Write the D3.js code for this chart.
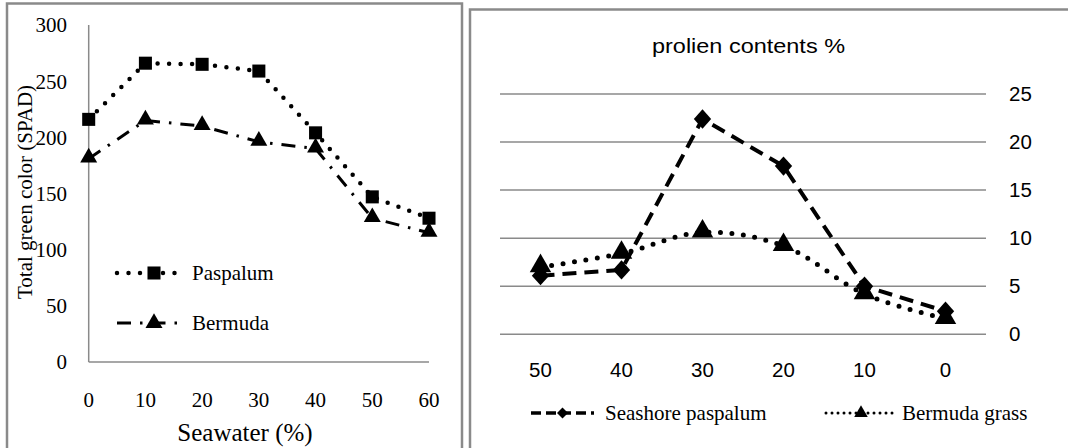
<!DOCTYPE html>
<html>
<head>
<meta charset="utf-8">
<script src="https://cdn.jsdelivr.net/npm/d3@7"></script>
<style>
  body { margin: 0; background: #fff; }
  svg { display: block; }
</style>
</head>
<body>
<div id="chart"></div>
<script>
// left chart data (SPAD)
const seawater = [0, 10, 20, 30, 40, 50, 60];
const paspalumSpad = [216, 266, 265, 259, 204, 147, 128];
const bermudaSpad = [181, 215, 210, 196, 190, 128, 115];
const spadTicks = [0, 50, 100, 150, 200, 250, 300];

// right chart data (prolien)
const prolienCats = ['50', '40', '30', '20', '10', '0'];
const seashoreProlien = [6.1, 6.7, 22.4, 17.5, 5.0, 2.4];
const bermudaProlien = [7.0, 8.4, 10.6, 9.2, 4.2, 1.6];
const prolienTicks = [0, 5, 10, 15, 20, 25];

const W = 1068, H = 448;
const svg = d3.select('#chart').append('svg').attr('width', W).attr('height', H);

const serif = '"Liberation Serif", "Times New Roman", serif';
const sans = '"Liberation Sans", Arial, sans-serif';
const gray = '#8a8a8a';

// panel borders
svg.append('path').attr('d', 'M7,448 V3.5 H462 V448')
  .attr('fill', 'none').attr('stroke', gray).attr('stroke-width', 2.5);
svg.append('path').attr('d', 'M470,448 V9.5 H1068')
  .attr('fill', 'none').attr('stroke', gray).attr('stroke-width', 2.5);

//---------- left chart ----------
const x1 = d3.scaleLinear().domain([0, 60]).range([88.7, 429]);
const y1 = d3.scaleLinear().domain([0, 300]).range([362, 25]);
const g1 = svg.append('g');

// axes lines
g1.append('line').attr('x1', x1(0)).attr('x2', x1(60)).attr('y1', y1(0)).attr('y2', y1(0))
  .attr('stroke', gray).attr('stroke-width', 1.5);
g1.append('line').attr('x1', x1(0)).attr('x2', x1(0)).attr('y1', y1(0)).attr('y2', y1(300))
  .attr('stroke', gray).attr('stroke-width', 1.5);

g1.selectAll('.ytick').data(spadTicks).enter().append('text')
  .attr('x', 67).attr('y', d => y1(d)).attr('dy', '0.35em')
  .attr('text-anchor', 'end').attr('font-family', serif).attr('font-size', 21)
  .text(d => d);

g1.selectAll('.xtick').data(seawater).enter().append('text')
  .attr('x', d => x1(d)).attr('y', 400).attr('dy', '0.35em')
  .attr('text-anchor', 'middle').attr('font-family', serif).attr('font-size', 21)
  .text(d => d);

g1.append('text').attr('x', 245).attr('y', 441)
  .attr('text-anchor', 'middle').attr('font-family', serif).attr('font-size', 25)
  .text('Seawater (%)');

g1.append('text').attr('transform', 'translate(25,192) rotate(-90)').attr('dy', '0.35em')
  .attr('text-anchor', 'middle').attr('font-family', serif).attr('font-size', 21)
  .text('Total green color (SPAD)');

const line1 = d3.line().x(d => x1(d[0])).y(d => y1(d[1]));

const pasStyle = { dash: '0 11.5', width: 4.5, cap: 'round' };
const berStyle = { dash: '14 9 2.5 9', width: 3, cap: 'butt' };

g1.append('path').datum(d3.zip(seawater, paspalumSpad)).attr('d', line1)
  .attr('fill', 'none').attr('stroke', '#000').attr('stroke-width', pasStyle.width)
  .attr('stroke-dasharray', pasStyle.dash).attr('stroke-linecap', pasStyle.cap);
g1.append('path').datum(d3.zip(seawater, bermudaSpad)).attr('d', line1)
  .attr('fill', 'none').attr('stroke', '#000').attr('stroke-width', berStyle.width)
  .attr('stroke-dasharray', berStyle.dash).attr('stroke-linecap', berStyle.cap);

const sq = d3.symbol().type(d3.symbolSquare).size(170);
const tri = d3.symbol().type(d3.symbolTriangle).size(125);

g1.selectAll('.sq').data(d3.zip(seawater, paspalumSpad)).enter().append('path')
  .attr('d', sq).attr('transform', d => `translate(${x1(d[0])},${y1(d[1])})`);
g1.selectAll('.tri').data(d3.zip(seawater, bermudaSpad)).enter().append('path')
  .attr('d', tri).attr('transform', d => `translate(${x1(d[0])},${y1(d[1]) - 1})`);

// legend left
const leg1 = [
  { name: 'Paspalum', y: 273, sym: sq, st: pasStyle },
  { name: 'Bermuda', y: 323, sym: tri, st: berStyle }
];
leg1.forEach(l => {
  g1.append('line').attr('x1', 117).attr('x2', 181).attr('y1', l.y).attr('y2', l.y)
    .attr('stroke', '#000').attr('stroke-width', l.st.width)
    .attr('stroke-dasharray', l.st.dash).attr('stroke-linecap', l.st.cap);
  g1.append('path').attr('d', l.sym).attr('transform', `translate(154,${l.y})`);
  g1.append('text').attr('x', 192).attr('y', l.y).attr('dy', '0.35em')
    .attr('font-family', serif).attr('font-size', 21).text(l.name);
});

//---------- right chart ----------
const x2 = d3.scalePoint().domain(prolienCats).range([500, 986]).padding(0.5);
const y2 = d3.scaleLinear().domain([0, 25]).range([334.3, 94]);
const g2 = svg.append('g');

g2.append('text').attr('x', 652).attr('y', 53)
  .attr('font-family', sans).attr('font-size', 20)
  .attr('textLength', 193).attr('lengthAdjust', 'spacingAndGlyphs')
  .text('prolien contents %');

g2.selectAll('.grid').data(prolienTicks).enter().append('line')
  .attr('x1', 500).attr('x2', 986).attr('y1', d => y2(d)).attr('y2', d => y2(d))
  .attr('stroke', gray).attr('stroke-width', 1.5);

g2.selectAll('.ytick').data(prolienTicks).enter().append('text')
  .attr('x', 1009).attr('y', d => y2(d)).attr('dy', '0.35em')
  .attr('font-family', sans).attr('font-size', 20.5).text(d => d);

g2.selectAll('.xtick').data(prolienCats).enter().append('text')
  .attr('x', d => x2(d)).attr('y', 370).attr('dy', '0.35em')
  .attr('text-anchor', 'middle').attr('font-family', sans).attr('font-size', 20.5).text(d => d);

const line2 = d3.line().x(d => x2(d[0])).y(d => y2(d[1]));
const line2s = d3.line().x(d => x2(d[0])).y(d => y2(d[1])).curve(d3.curveCatmullRom.alpha(0.5));

const seaStyle = { dash: '14 8', width: 4, cap: 'butt' };
const bgStyle = { dash: '0 11.5', width: 5, cap: 'round' };

g2.append('path').datum(d3.zip(prolienCats, seashoreProlien)).attr('d', line2)
  .attr('fill', 'none').attr('stroke', '#000').attr('stroke-width', seaStyle.width)
  .attr('stroke-dasharray', seaStyle.dash).attr('stroke-linecap', seaStyle.cap);
g2.append('path').datum(d3.zip(prolienCats, bermudaProlien)).attr('d', line2s)
  .attr('fill', 'none').attr('stroke', '#000').attr('stroke-width', bgStyle.width)
  .attr('stroke-dasharray', bgStyle.dash).attr('stroke-linecap', bgStyle.cap);

const dia = d3.symbol().type(d3.symbolSquare).size(150);
const tri2 = d3.symbol().type(d3.symbolTriangle).size(200);

g2.selectAll('.dia').data(d3.zip(prolienCats, seashoreProlien)).enter().append('path')
  .attr('d', dia).attr('transform', d => `translate(${x2(d[0])},${y2(d[1])}) scale(1,1.12) rotate(45)`);
g2.selectAll('.tri').data(d3.zip(prolienCats, bermudaProlien)).enter().append('path')
  .attr('d', tri2).attr('transform', d => `translate(${x2(d[0])},${y2(d[1]) - 1})`);

// legend right
const leg2 = [
  { name: 'Seashore paspalum', x0: 531, x1: 594, xs: 562.5, xt: 605,
    sym: d3.symbol().type(d3.symbolSquare).size(60), rot: ' rotate(45)',
    st: { dash: '10 5', width: 3.5, cap: 'butt' } },
  { name: 'Bermuda grass', x0: 826, x1: 896, xs: 861, xt: 902,
    sym: d3.symbol().type(d3.symbolTriangle).size(80), rot: '',
    st: { dash: '0 6', width: 3, cap: 'round' } }
];
leg2.forEach(l => {
  g2.append('line').attr('x1', l.x0).attr('x2', l.x1).attr('y1', 413).attr('y2', 413)
    .attr('stroke', '#000').attr('stroke-width', l.st.width)
    .attr('stroke-dasharray', l.st.dash).attr('stroke-linecap', l.st.cap);
  g2.append('path').attr('d', l.sym).attr('transform', `translate(${l.xs},413)${l.rot}`);
  g2.append('text').attr('x', l.xt).attr('y', 413).attr('dy', '0.35em')
    .attr('font-family', serif).attr('font-size', 21).text(l.name);
});
</script>
</body>
</html>
